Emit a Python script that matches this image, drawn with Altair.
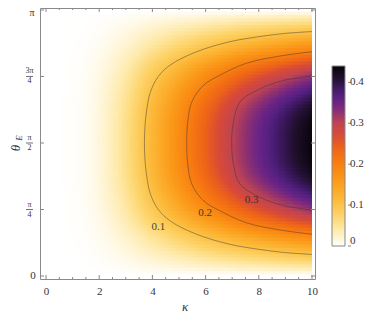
import altair as alt
import pandas as pd
import numpy as np

PI = float(np.pi)
FONT = "Liberation Serif"

# ---- data ----
KAPPA = [round(0.1 * i, 1) for i in range(101)]
A_KAPPA = [0.000, 0.000, 0.000, 0.000, 0.000, 0.000, 0.001, 0.001, 0.001, 0.002,
           0.002, 0.003, 0.003, 0.004, 0.005, 0.006, 0.008, 0.010, 0.012, 0.014,
           0.017, 0.020, 0.023, 0.026, 0.030, 0.034, 0.038, 0.042, 0.047, 0.052,
           0.057, 0.062, 0.068, 0.074, 0.080, 0.086, 0.093, 0.100, 0.106, 0.113,
           0.119, 0.125, 0.131, 0.138, 0.144, 0.150, 0.156, 0.163, 0.169, 0.175,
           0.181, 0.188, 0.194, 0.201, 0.207, 0.213, 0.219, 0.225, 0.231, 0.237,
           0.243, 0.249, 0.255, 0.260, 0.266, 0.272, 0.278, 0.283, 0.289, 0.295,
           0.301, 0.306, 0.311, 0.317, 0.322, 0.327, 0.332, 0.337, 0.342, 0.346,
           0.351, 0.356, 0.361, 0.365, 0.370, 0.374, 0.379, 0.383, 0.388, 0.392,
           0.397, 0.401, 0.405, 0.410, 0.414, 0.418, 0.422, 0.426, 0.430, 0.434,
           0.438]
THETA_FRAC = [i / 80 for i in range(81)]  # theta / pi
B_THETA = [0.000, 0.036, 0.072, 0.108, 0.144, 0.180, 0.215, 0.251, 0.287, 0.323,
           0.360, 0.397, 0.435, 0.476, 0.520, 0.563, 0.605, 0.644, 0.680, 0.713,
           0.745, 0.773, 0.800, 0.826, 0.850, 0.872, 0.893, 0.912, 0.930, 0.945,
           0.958, 0.968, 0.977, 0.984, 0.990, 0.993, 0.996, 0.998, 0.999, 1.000,
           1.000,
           1.000, 0.999, 0.998, 0.996, 0.993, 0.990, 0.984, 0.977, 0.968, 0.958,
           0.945, 0.930, 0.912, 0.893, 0.872, 0.850, 0.826, 0.800, 0.773, 0.745,
           0.713, 0.680, 0.644, 0.605, 0.563, 0.520, 0.476, 0.435, 0.397, 0.360,
           0.323, 0.287, 0.251, 0.215, 0.180, 0.144, 0.108, 0.072, 0.036, 0.000]

C01_K = [10.0, 9.0, 8.17, 6.92, 5.66, 4.7, 4.22, 3.92, 3.78, 3.72, 3.7,
         3.72, 3.78, 3.92, 4.22, 4.7, 5.66, 6.92, 8.17, 9.0, 10.0]
C01_T = [0.081, 0.088, 0.098, 0.119, 0.157, 0.205, 0.25, 0.31, 0.38, 0.44, 0.5,
         0.56, 0.62, 0.69, 0.75, 0.795, 0.843, 0.881, 0.902, 0.912, 0.919]
C02_K = [10.0, 8.8, 7.54, 6.54, 5.91, 5.48, 5.33, 5.29,
         5.33, 5.48, 5.91, 6.54, 7.54, 8.8, 10.0]
C02_T = [0.157, 0.173, 0.2, 0.245, 0.284, 0.346, 0.42, 0.5,
         0.58, 0.654, 0.716, 0.755, 0.8, 0.827, 0.843]
C03_K = [10.0, 8.92, 8.05, 7.29, 7.05, 6.98, 7.05, 7.29, 8.05, 8.92, 10.0]
C03_T = [0.248, 0.265, 0.296, 0.346, 0.42, 0.5, 0.58, 0.654, 0.704, 0.735, 0.752]

CLABEL_TEXT = ["0.1", "0.2", "0.3"]
CLABEL_K = [4.22, 5.98, 7.73]
CLABEL_T = [0.184, 0.236, 0.287]

X_MAJOR = [0, 2, 4, 6, 8, 10]
X_MINOR = [0.5, 1, 1.5, 2.5, 3, 3.5, 4.5, 5, 5.5, 6.5, 7, 7.5, 8.5, 9, 9.5]
Y_MAJOR_FRAC = [0, 0.25, 0.5, 0.75, 1]
Y_FRAC_FRAC = [0.25, 0.5, 0.75]
Y_FRAC_NUM = ["π", "π", "3π"]
Y_FRAC_DEN = ["4", "2", "4"]

LEGEND_VALUES = [0, 0.1, 0.2, 0.3, 0.4]
LEGEND_MAX = 0.44
COLOR_STOPS = [0, 0.02, 0.04, 0.07, 0.1, 0.12, 0.16, 0.2, 0.24, 0.27, 0.3,
               0.33, 0.35, 0.37, 0.39, 0.41, 0.44]
COLORS = ["#ffffff", "#fff4d4", "#feeaab", "#fdd670", "#fcc348", "#fcb535",
          "#fb9a1a", "#f98010", "#ee6418", "#d84a38", "#c04452", "#8a2f74",
          "#6a2486", "#52207e", "#3a175c", "#22102f", "#070409"]

# ---- tables ----
DK = 0.05
DT = PI / 160
rows = []
for i, k in enumerate(KAPPA):
    for j, tf in enumerate(THETA_FRAC):
        t = tf * PI
        rows.append({
            "k0": max(0.0, k - DK), "k1": min(10.0, k + DK + 0.03),
            "t0": max(0.0, t - DT), "t1": min(PI, t + DT + 0.01),
            "v": round(A_KAPPA[i] * B_THETA[j], 5),
        })
heat = pd.DataFrame(rows)

cont_rows = []
for lev, ks, ts in [("0.1", C01_K, C01_T), ("0.2", C02_K, C02_T), ("0.3", C03_K, C03_T)]:
    for n, (k, t) in enumerate(zip(ks, ts)):
        cont_rows.append({"k": k, "t": t * PI, "level": lev, "i": n})
cont = pd.DataFrame(cont_rows)

clab = pd.DataFrame({"k": CLABEL_K, "t": [t * PI for t in CLABEL_T], "txt": CLABEL_TEXT})

W, H = 275, 271
xs = alt.Scale(domain=[-0.2256, 10.1128], nice=False, zero=False)
ys = alt.Scale(domain=[-0.0354, PI + 0.0236], nice=False, zero=False)
cs = alt.Scale(type="linear", domain=COLOR_STOPS, range=COLORS, clamp=True, interpolate="rgb")

base_x_axis = alt.Axis(values=X_MAJOR, ticks=False, domain=False, grid=False,
                       labelFont=FONT, labelFontSize=11, labelColor="#333",
                       labelPadding=6, title=None, labelFlush=False)

heat_layer = alt.Chart(heat).mark_rect(strokeWidth=0).encode(
    x=alt.X("k0:Q", scale=xs, axis=base_x_axis),
    x2="k1:Q",
    y=alt.Y("t0:Q", scale=ys, axis=None),
    y2="t1:Q",
    color=alt.Color("v:Q", scale=cs, legend=alt.Legend(
        type="gradient",
        orient="none", legendX=292, legendY=58, direction="vertical",
        gradientLength=180, gradientThickness=13, values=LEGEND_VALUES,
        title=None, labelFont=FONT, labelFontSize=11, labelColor="#333",
        labelOffset=5, gradientStrokeColor="#888", gradientStrokeWidth=1,
        labelBaseline="middle",
        labelExpr="datum.value == 0 ? '0' : format(datum.value, '.1f')")),
)

contour_layer = alt.Chart(cont).mark_line(
    interpolate="catmull-rom", stroke="#333", strokeOpacity=0.5, strokeWidth=0.9
).encode(
    x=alt.X("k:Q", scale=xs, axis=base_x_axis),
    y=alt.Y("t:Q", scale=ys, axis=None),
    detail="level:N",
    order="i:Q",
)

clabel_layer = alt.Chart(clab).mark_text(
    font=FONT, fontSize=11, color="#2a2a2a", opacity=0.85
).encode(
    x=alt.X("k:Q", scale=xs, axis=base_x_axis),
    y=alt.Y("t:Q", scale=ys, axis=None),
    text="txt:N",
)

TICK_COLOR = "#888"
xmaj = pd.DataFrame({"x": X_MAJOR})
xmin = pd.DataFrame({"x": X_MINOR})
ymaj = pd.DataFrame({"t": [f * PI for f in Y_MAJOR_FRAC]})


def xticks(df, y1, y2):
    return alt.Chart(df).mark_rule(color=TICK_COLOR, strokeWidth=1).encode(
        x=alt.X("x:Q", scale=xs, axis=base_x_axis),
        y=alt.value(y1), y2=alt.value(y2))


def yticks(df, x1, x2):
    return alt.Chart(df).mark_rule(color=TICK_COLOR, strokeWidth=1).encode(
        y=alt.Y("t:Q", scale=ys, axis=None),
        x=alt.value(x1), x2=alt.value(x2))


tick_layers = [
    xticks(xmaj, H, H - 4), xticks(xmaj, 0, 4),
    xticks(xmin, H, H - 2), xticks(xmin, 0, 2),
    yticks(ymaj, 0, 4), yticks(ymaj, W, W - 4),
]

# small ticks beside the colour bar
legend_ticks = alt.Chart(pd.DataFrame({"v": LEGEND_VALUES})).mark_rule(
    color=TICK_COLOR, strokeWidth=1
).encode(
    y=alt.Y("v:Q", scale=alt.Scale(domain=[0, LEGEND_MAX], range=[238, 58],
                                   nice=False, zero=False), axis=None),
    x=alt.value(308), x2=alt.value(311),
)

ybottom = pd.DataFrame({"t": [0.0], "txt": ["0"]})
ytop = pd.DataFrame({"t": [PI], "txt": ["π"]})
yfrac = pd.DataFrame({"t": [f * PI for f in Y_FRAC_FRAC], "num": Y_FRAC_NUM, "den": Y_FRAC_DEN})

ywhole_bottom = alt.Chart(ybottom).mark_text(
    font=FONT, fontSize=11, color="#333", align="center", baseline="middle"
).encode(y=alt.Y("t:Q", scale=ys, axis=None), x=alt.value(-7), text="txt:N")
ywhole_top = alt.Chart(ytop).mark_text(
    font=FONT, fontSize=10, color="#333", align="center", baseline="middle", dy=3
).encode(y=alt.Y("t:Q", scale=ys, axis=None), x=alt.value(-8), text="txt:N")

ynum_layer = alt.Chart(yfrac).mark_text(
    font=FONT, fontSize=8, color="#333", align="center", baseline="middle", dy=-5
).encode(y=alt.Y("t:Q", scale=ys, axis=None), x=alt.value(-10.5), text="num:N")

yden_layer = alt.Chart(yfrac).mark_text(
    font=FONT, fontSize=8, color="#333", align="center", baseline="middle", dy=5
).encode(y=alt.Y("t:Q", scale=ys, axis=None), x=alt.value(-10.5), text="den:N")

ybar_layer = alt.Chart(yfrac).mark_rule(color="#333", strokeWidth=0.7).encode(
    y=alt.Y("t:Q", scale=ys, axis=None), x=alt.value(-14), x2=alt.value(-7))

titles = pd.DataFrame({"dummy": [0]})
kappa_title = alt.Chart(titles).mark_text(
    text="κ", font=FONT, fontSize=13, fontStyle="italic", color="#333",
    align="center", baseline="middle"
).encode(x=alt.value(145), y=alt.value(299))
theta_title = alt.Chart(titles).mark_text(
    text="θ", font=FONT, fontSize=13, fontStyle="italic", color="#333",
    align="center", baseline="middle", angle=270
).encode(x=alt.value(-24), y=alt.value(140))
e_title = alt.Chart(titles).mark_text(
    text="E", font=FONT, fontSize=9, fontStyle="italic", color="#333",
    align="center", baseline="middle", angle=270
).encode(x=alt.value(-21), y=alt.value(130))

chart = alt.layer(
    heat_layer, contour_layer, clabel_layer, *tick_layers,
    ywhole_bottom, ywhole_top, ynum_layer, yden_layer, ybar_layer,
    kappa_title, theta_title, e_title, legend_ticks,
).resolve_scale(y="independent").properties(
    width=W, height=H,
    autosize=alt.AutoSizeParams(type="none"),
    padding={"left": 32, "top": 0, "right": 51, "bottom": 37},
    background="white",
).configure_view(stroke="#8a8a8a", strokeWidth=1)

chart.save("out.html", embed_options={"renderer": "svg", "actions": False})
